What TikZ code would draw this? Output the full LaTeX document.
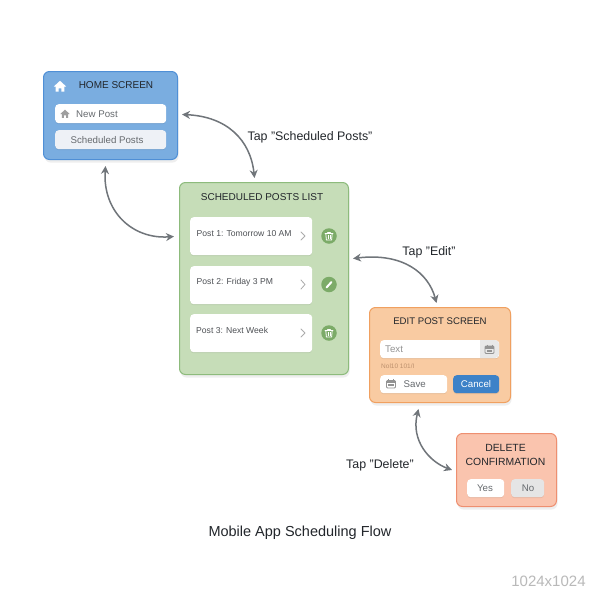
\documentclass[tikz,border=0pt]{standalone}
\usepackage{fontspec}
\setmainfont{Liberation Sans}
\usetikzlibrary{arrows.meta,shadows,calc}
\definecolor{ink}{HTML}{22262B}
\definecolor{grayt}{HTML}{666A6E}
\definecolor{arrowc}{HTML}{70757A}
\definecolor{blueF}{HTML}{7AADE0}
\definecolor{blueD}{HTML}{4F8FD6}
\definecolor{greenF}{HTML}{C6DDB8}
\definecolor{greenD}{HTML}{8DBB7C}
\definecolor{greenI}{HTML}{7CAB68}
\definecolor{orF}{HTML}{F9CBA2}
\definecolor{orD}{HTML}{F0A060}
\definecolor{redF}{HTML}{FAC4AE}
\definecolor{redD}{HTML}{EE8F70}
\definecolor{cancelF}{HTML}{3D82C8}
\definecolor{schF}{HTML}{EEF1F6}
\newcommand{\fs}[1]{\fontsize{#1}{#1}\selectfont}
\tikzset{
 x=1pt,y=-1pt,
 screen/.style={draw=#1,line width=1pt,rounded corners=6pt,inner sep=0pt,anchor=north west,
   drop shadow={shadow xshift=1pt,shadow yshift=-3pt,opacity=.09,fill=black!70}},
 card/.style={fill=white,rounded corners=3.5pt,inner sep=0pt,anchor=north west,
   drop shadow={shadow xshift=0pt,shadow yshift=-1pt,opacity=.07,fill=black}},
 flow/.style={draw=arrowc,line width=1.5pt,{Stealth[length=8pt,width=8pt]}-{Stealth[length=8pt,width=8pt]}},
 head/.style={text=ink,font=\fs{10},inner sep=0pt},
 small/.style={text=grayt,font=\fs{9.7},inner sep=0pt},
 lab/.style={text=ink,font=\fs{12.4},inner sep=0pt},
 post/.style={text=ink!80,font=\fs{8.6},anchor=west,inner sep=0pt},
 badge/.style={circle,fill=greenI,minimum size=15.5pt,inner sep=0pt},
 chev/.style={draw=gray!65,line width=.8pt,line cap=round,line join=round},
}
\newcommand{\house}[4]{% centre x,y, colour, scale
 \begin{scope}[shift={(#1,#2)},scale=#4]
 \fill[#3] (-6.5,0) -- (0,-6) -- (6.5,0) -- (4.5,0) -- (4.5,5.5) -- (1.5,5.5) -- (1.5,2) -- (-1.5,2) -- (-1.5,5.5) -- (-4.5,5.5) -- (-4.5,0) -- cycle;
 \end{scope}}
\newcommand{\trash}[2]{%
 \draw[white,line width=.8pt,line join=round,line cap=round] (#1-3.2,#2-2.4) -- (#1-2.6,#2+4) -- (#1+2.6,#2+4) -- (#1+3.2,#2-2.4);
 \draw[white,line width=.8pt,line cap=round] (#1-4,#2-2.8) -- (#1+4,#2-2.8) (#1-1.4,#2-4) -- (#1+1.4,#2-4);
 \draw[white,line width=.6pt] (#1-1,#2-1) -- (#1-1,#2+2.6) (#1+1,#2-1) -- (#1+1,#2+2.6);}
\newcommand{\calicon}[3]{%
 \draw[#3,line width=.8pt,rounded corners=1pt] (#1-4.5,#2-3.5) rectangle (#1+4.5,#2+4);
 \fill[#3] (#1-4.5,#2-3.5) rectangle (#1+4.5,#2-1);
 \draw[#3,line width=.8pt] (#1-2.5,#2-5) -- (#1-2.5,#2-3) (#1+2.5,#2-5) -- (#1+2.5,#2-3);
 \fill[#3] (#1-2.7,#2+.3) rectangle (#1+2.7,#2+2.2);}
\begin{document}
\begin{tikzpicture}
\useasboundingbox (0,0) rectangle (600,600);
\fill[white] (0,0) rectangle (600,600);

% screens
\node[screen=blueD,fill=blueF,minimum width=134pt,minimum height=88pt] (home) at (43,71) {};
\node[screen=greenD,fill=greenF,minimum width=169pt,minimum height=192pt] (list) at (179,182) {};
\node[screen=orD,fill=orF,minimum width=141pt,minimum height=95pt] (edit) at (369,307) {};
\node[screen=redD,fill=redF,minimum width=100pt,minimum height=73pt] (del) at (456,433) {};

% home
\house{60}{86.5}{white}{0.95}
\node[head] (homet) at (116,85.5) {HOME SCREEN};
\node[card,minimum width=111pt,minimum height=19pt] (newp) at (55,104) {};
\house{65}{114}{gray!75}{0.72}
\node[small,anchor=west] (newt) at (76,114) {New Post};
\node[card,fill=schF,minimum width=111pt,minimum height=19pt] (schb) at (55,130) {};
\node[small] (scht) at (107,140) {Scheduled Posts};

% list
\node[head] (listt) at (262,197) {SCHEDULED POSTS LIST};
\node[card,minimum width=122pt,minimum height=38pt] (p1) at (190,217) {};
\node[card,minimum width=122pt,minimum height=38pt] (p2) at (190,266) {};
\node[card,minimum width=122pt,minimum height=38pt] (p3) at (190,314) {};
\node[post] (p1t) at (196.5,234) {Post 1: Tomorrow 10 AM};
\node[post] (p2t) at (196.5,282) {Post 2: Friday 3 PM};
\node[post] (p3t) at (196,330.5) {Post 3: Next Week};
\draw[chev] (301,232) -- (305,236) -- (301,240);
\draw[chev] (301,280) -- (305,284.5) -- (301,289);
\draw[chev] (301,329) -- (305,333) -- (301,337);
\node[badge] (b1) at (329,236) {};
\node[badge] (b2) at (329,284.5) {};
\node[badge] (b3) at (329,333) {};
\trash{329}{236}
\trash{329}{333}
\draw[white,line width=2pt,line cap=round] (326.5,287.5) -- (331.5,282);

% edit
\node[head,font=\fs{9.6}] (editt) at (440,321) {EDIT POST SCREEN};
\node[card,minimum width=119pt,minimum height=18pt] (tb) at (380,340) {};
\fill[gray!18] (480,340) -- (495,340) arc[start angle=90,end angle=0,radius=4pt] -- (499,354) arc[start angle=0,end angle=-90,radius=4pt] -- (480,358) -- cycle;
\calicon{489.5}{349.5}{gray!85}
\node[small,anchor=west,text=gray!85] (tt) at (385,349) {Text};
\node[text=orD!55!gray,font=\fs{6.5},anchor=west,inner sep=0pt] (dt) at (381,366) {Nol10 101/I};
\node[card,minimum width=67pt,minimum height=18pt] (sv) at (380,375) {};
\calicon{391}{384}{gray!85}
\node[small,anchor=west] (svt) at (403.5,384) {Save};
\node[card,fill=cancelF,minimum width=46pt,minimum height=18pt] (cn) at (453,375) {};
\node[small,text=white] (cnt) at (476,384) {Cancel};

% delete
\node[head,align=center,font=\fs{10.4},text=ink] (delt) at (505.5,455) {DELETE\\[4.5pt]CONFIRMATION};
\node[card,minimum width=37pt,minimum height=18pt] (yes) at (467,479) {};
\node[small] (yest) at (485,488) {Yes};
\node[card,fill=gray!20,minimum width=33pt,minimum height=18pt] (no) at (511,479) {};
\node[small] (not) at (528,488) {No};

% connectors
\draw[flow] ([xshift=4pt,yshift=1pt]home.east) .. controls +(45,2) and +(-4,-38) .. ([xshift=-9.5pt,yshift=4pt]list.north);
\draw[flow] ([xshift=-5pt,yshift=-6pt]home.south) .. controls +(-3,45) and +(-42,3) .. ([xshift=-5pt,yshift=42pt]list.west);
\draw[flow] ([xshift=4pt,yshift=20pt]list.east) .. controls +(50,-6) and +(-8,-30) .. ([xshift=-3.5pt,yshift=4pt]edit.north);
\draw[flow] ([xshift=-21.5pt,yshift=-6pt]edit.south) .. controls +(-8,32) and +(-22,-8) .. ([xshift=-4pt]del.west);

% labels
\node[lab] (l1) at (310,137.5) {Tap "Scheduled Posts"};
\node[lab] (l2) at (429,252.5) {Tap "Edit"};
\node[lab] (l3) at (380,465) {Tap "Delete"};
\node[text=ink,font=\fs{14.5},inner sep=0pt] (title) at (300,533) {Mobile App Scheduling Flow};
\node[text=gray!55,font=\fs{15},inner sep=0pt] (wm) at (548.5,581) {1024x1024};
\end{tikzpicture}
\end{document}
